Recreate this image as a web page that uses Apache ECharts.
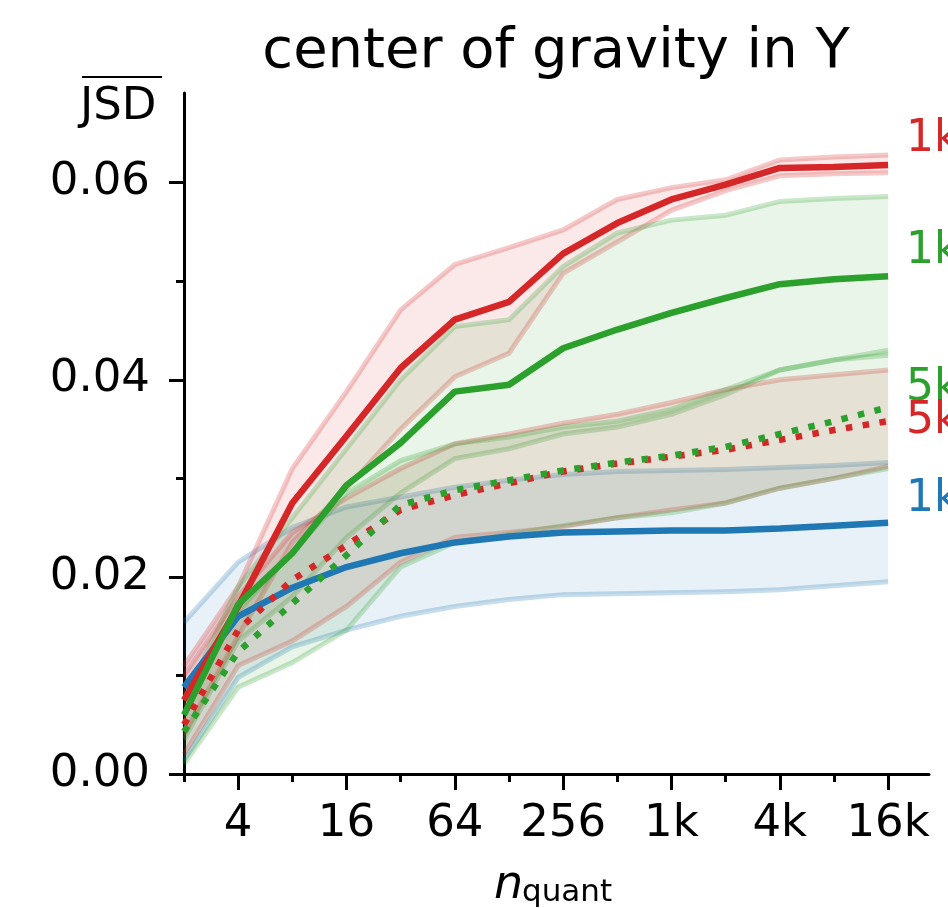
<!DOCTYPE html>
<html>
<head>
<meta charset="utf-8">
<script src="https://cdn.jsdelivr.net/npm/echarts@6/dist/echarts.min.js"></script>
<style>
  html, body { margin: 0; padding: 0; background: #fff; }
  #chart { width: 948px; height: 908px; }
</style>
</head>
<body>
<div id="chart"></div>
<script>
// x positions: n_quant values (drawn on a log2 scale)
var nQuant = [2, 4, 8, 16, 32, 64, 128, 256, 512, 1024, 2048, 4096, 8192, 16384];
var xTickLabels = ['4', '16', '64', '256', '1k', '4k', '16k'];
var yTickLabels = ['0.00', '0.02', '0.04', '0.06'];
var endLabels = ['1k', '1k', '5k', '5k', '1k'];

// red, solid
var red1kMean = [0.0075, 0.017, 0.0275, 0.0343, 0.0412, 0.0461, 0.0479, 0.0528, 0.0559, 0.0583, 0.0598, 0.0615, 0.0616, 0.0618];
var red1kHigh = [0.011, 0.019, 0.031, 0.0388, 0.0471, 0.0517, 0.0534, 0.0552, 0.0583, 0.0595, 0.0603, 0.0623, 0.0626, 0.0628];
var red1kLow  = [0.004, 0.014, 0.0235, 0.029, 0.035, 0.0403, 0.0427, 0.0508, 0.054, 0.0572, 0.0592, 0.0607, 0.0609, 0.061];
// green, solid
var green1kMean = [0.006, 0.0172, 0.0224, 0.0293, 0.0336, 0.0388, 0.0395, 0.0432, 0.0451, 0.0468, 0.0483, 0.0497, 0.0502, 0.0505];
var green1kHigh = [0.0075, 0.019, 0.026, 0.033, 0.040, 0.0454, 0.0461, 0.0515, 0.0549, 0.0562, 0.0567, 0.0581, 0.0584, 0.0586];
var green1kLow  = [0.0035, 0.0135, 0.018, 0.024, 0.0285, 0.032, 0.033, 0.0345, 0.0352, 0.0365, 0.0385, 0.041, 0.042, 0.0425];
// green, dotted
var green5kMean = [0.0043, 0.0124, 0.0173, 0.0222, 0.0273, 0.0288, 0.0298, 0.0308, 0.0316, 0.0323, 0.0332, 0.0345, 0.0358, 0.0372];
var green5kHigh = [0.008, 0.0165, 0.0225, 0.0285, 0.0318, 0.0335, 0.0342, 0.0352, 0.0358, 0.037, 0.039, 0.041, 0.042, 0.043];
var green5kLow  = [0.001, 0.0088, 0.0113, 0.0146, 0.021, 0.0235, 0.0243, 0.0252, 0.026, 0.0265, 0.0275, 0.029, 0.030, 0.031];
// red, dotted
var red5kMean = [0.005, 0.0146, 0.0197, 0.0232, 0.0268, 0.0283, 0.0295, 0.0307, 0.0315, 0.0322, 0.0329, 0.0339, 0.0349, 0.0358];
var red5kHigh = [0.010, 0.018, 0.0245, 0.028, 0.031, 0.0335, 0.0345, 0.0356, 0.0365, 0.0377, 0.039, 0.040, 0.0405, 0.041];
var red5kLow  = [0.002, 0.011, 0.0135, 0.017, 0.0215, 0.024, 0.0245, 0.0251, 0.026, 0.0268, 0.0275, 0.029, 0.030, 0.0312];
// blue, solid
var blue1kMean = [0.0088, 0.016, 0.0189, 0.021, 0.0224, 0.0235, 0.0241, 0.0245, 0.0246, 0.0247, 0.0247, 0.0249, 0.0252, 0.0255];
var blue1kHigh = [0.0154, 0.0215, 0.025, 0.0271, 0.0281, 0.0291, 0.0298, 0.0304, 0.0307, 0.0308, 0.0309, 0.0311, 0.0313, 0.0316];
var blue1kLow  = [0.0014, 0.0098, 0.0129, 0.0146, 0.016, 0.017, 0.0177, 0.0182, 0.0183, 0.0184, 0.0185, 0.0187, 0.0191, 0.0195];

var RED = '#d62728', GREEN = '#2ca02c', BLUE = '#1f77b4';
var FONT = 'DejaVu Sans';

function rgba(hex, a) {
    var n = parseInt(hex.slice(1), 16);
    return 'rgba(' + (n >> 16) + ',' + ((n >> 8) & 255) + ',' + (n & 255) + ',' + a + ')';
}
var lx = nQuant.map(function (n) { return Math.log2(n); });
function pairs(arr) { return arr.map(function (v, i) { return [lx[i], v]; }); }

// shaded band between low and high, drawn once as a polygon plus its two edges
function band(low, high, color) {
    return {
        type: 'custom', silent: true,
        data: low.map(function (v, i) { return [lx[i], v, high[i]]; }),
        encode: { x: 0, y: [1, 2] },
        renderItem: function (params, api) {
            if (params.dataIndexInside !== 0) return;
            var n = params.dataInsideLength;
            var top = [], bot = [];
            for (var i = 0; i < n; i++) {
                var x = api.value(0, i);
                bot.push(api.coord([x, api.value(1, i)]));
                top.push(api.coord([x, api.value(2, i)]));
            }
            var edge = { fill: null, stroke: rgba(color, 0.25), lineWidth: 5 };
            return {
                type: 'group',
                children: [
                    { type: 'polygon', shape: { points: top.concat(bot.slice().reverse()) }, style: { fill: rgba(color, 0.1) } },
                    { type: 'polyline', shape: { points: top }, style: edge },
                    { type: 'polyline', shape: { points: bot }, style: edge }
                ]
            };
        }
    };
}
function line(mean, color, dotted) {
    return {
        type: 'line', symbol: 'none', silent: true,
        data: pairs(mean),
        lineStyle: { color: color, width: 6.5, type: dotted ? [6.5, 10.5] : 'solid', cap: 'butt' }
    };
}

var series = [
    band(blue1kLow, blue1kHigh, BLUE),
    band(red1kLow, red1kHigh, RED),
    band(green1kLow, green1kHigh, GREEN),
    band(red5kLow, red5kHigh, RED),
    band(green5kLow, green5kHigh, GREEN),
    line(blue1kMean, BLUE, false),
    line(red1kMean, RED, false),
    line(green1kMean, GREEN, false),
    line(red5kMean, RED, true),
    line(green5kMean, GREEN, true)
];

var xMajor = [2, 4, 6, 8, 10, 12, 14];
var xMinor = [1, 3, 5, 7, 9, 11, 13];
var yMajor = [0, 0.02, 0.04, 0.06];
var yMinor = [0.01, 0.03, 0.05];
var X_MIN = 1, X_MAX = 14.755, Y_MIN = 0, Y_MAX = 0.0691;

var myChart = echarts.init(document.getElementById('chart'), null, { renderer: 'canvas' });
var option = {
    animation: false,
    backgroundColor: '#fff',
    grid: { left: 184, right: 19, top: 93, bottom: 134 },
    xAxis: [{
        type: 'value', position: 'bottom', min: X_MIN, max: X_MAX,
        splitLine: { show: false },
        axisLine: { show: true, lineStyle: { color: '#000', width: 3 } },
        axisTick: { show: true, length: 16, customValues: xMajor, lineStyle: { color: '#000', width: 3 } },
        axisLabel: {
            customValues: xMajor, margin: 28, color: '#000', fontSize: 45, fontFamily: FONT,
            formatter: function (v) { return xTickLabels[xMajor.indexOf(Math.round(v))]; }
        }
    }, {
        type: 'value', position: 'bottom', offset: 0, min: X_MIN, max: X_MAX,
        splitLine: { show: false },
        axisLine: { show: false },
        axisTick: { show: true, length: 8, customValues: xMinor, lineStyle: { color: '#000', width: 3 } },
        axisLabel: { show: false }
    }],
    yAxis: [{
        type: 'value', position: 'left', min: Y_MIN, max: Y_MAX,
        splitLine: { show: false },
        axisLine: { show: true, lineStyle: { color: '#000', width: 3 } },
        axisTick: { show: true, length: 15, customValues: yMajor, lineStyle: { color: '#000', width: 3 } },
        axisLabel: {
            customValues: yMajor, margin: 34, color: '#000', fontSize: 45, fontFamily: FONT,
            formatter: function (v) { return yTickLabels[Math.round(v / 0.02)]; }
        }
    }, {
        type: 'value', position: 'left', offset: 0, min: Y_MIN, max: Y_MAX,
        splitLine: { show: false },
        axisLine: { show: false },
        axisTick: { show: true, length: 8, customValues: yMinor, lineStyle: { color: '#000', width: 3 } },
        axisLabel: { show: false }
    }],
    graphic: [
        { type: 'text', x: 556, y: 52, style: { text: 'center of gravity in Y', font: '56px "DejaVu Sans"', fill: '#000', align: 'center', verticalAlign: 'middle' } },
        { type: 'text', x: 80, y: 107, style: { text: 'JSD', font: '45px "DejaVu Sans"', fill: '#000', align: 'left', verticalAlign: 'middle' } },
        { type: 'line', shape: { x1: 82, y1: 77, x2: 162, y2: 77 }, style: { stroke: '#000', lineWidth: 2 } },
        { type: 'text', x: 494, y: 886, style: { text: 'n', font: 'italic 46px "DejaVu Sans"', fill: '#000', align: 'left', verticalAlign: 'middle' } },
        { type: 'text', x: 522, y: 893, style: { text: 'quant', font: '31px "DejaVu Sans"', fill: '#000', align: 'left', verticalAlign: 'middle' } },
        { type: 'text', x: 906, y: 140, style: { text: endLabels[0], font: '44px "DejaVu Sans"', fill: RED, align: 'left', verticalAlign: 'middle' } },
        { type: 'text', x: 906, y: 252, style: { text: endLabels[1], font: '44px "DejaVu Sans"', fill: GREEN, align: 'left', verticalAlign: 'middle' } },
        { type: 'text', x: 906, y: 389, style: { text: endLabels[2], font: '44px "DejaVu Sans"', fill: GREEN, align: 'left', verticalAlign: 'middle' } },
        { type: 'text', x: 906, y: 422, style: { text: endLabels[3], font: '44px "DejaVu Sans"', fill: RED, align: 'left', verticalAlign: 'middle' } },
        { type: 'text', x: 906, y: 500, style: { text: endLabels[4], font: '44px "DejaVu Sans"', fill: BLUE, align: 'left', verticalAlign: 'middle' } }
    ],
    series: series
};
myChart.setOption(option);
</script>
</body>
</html>
